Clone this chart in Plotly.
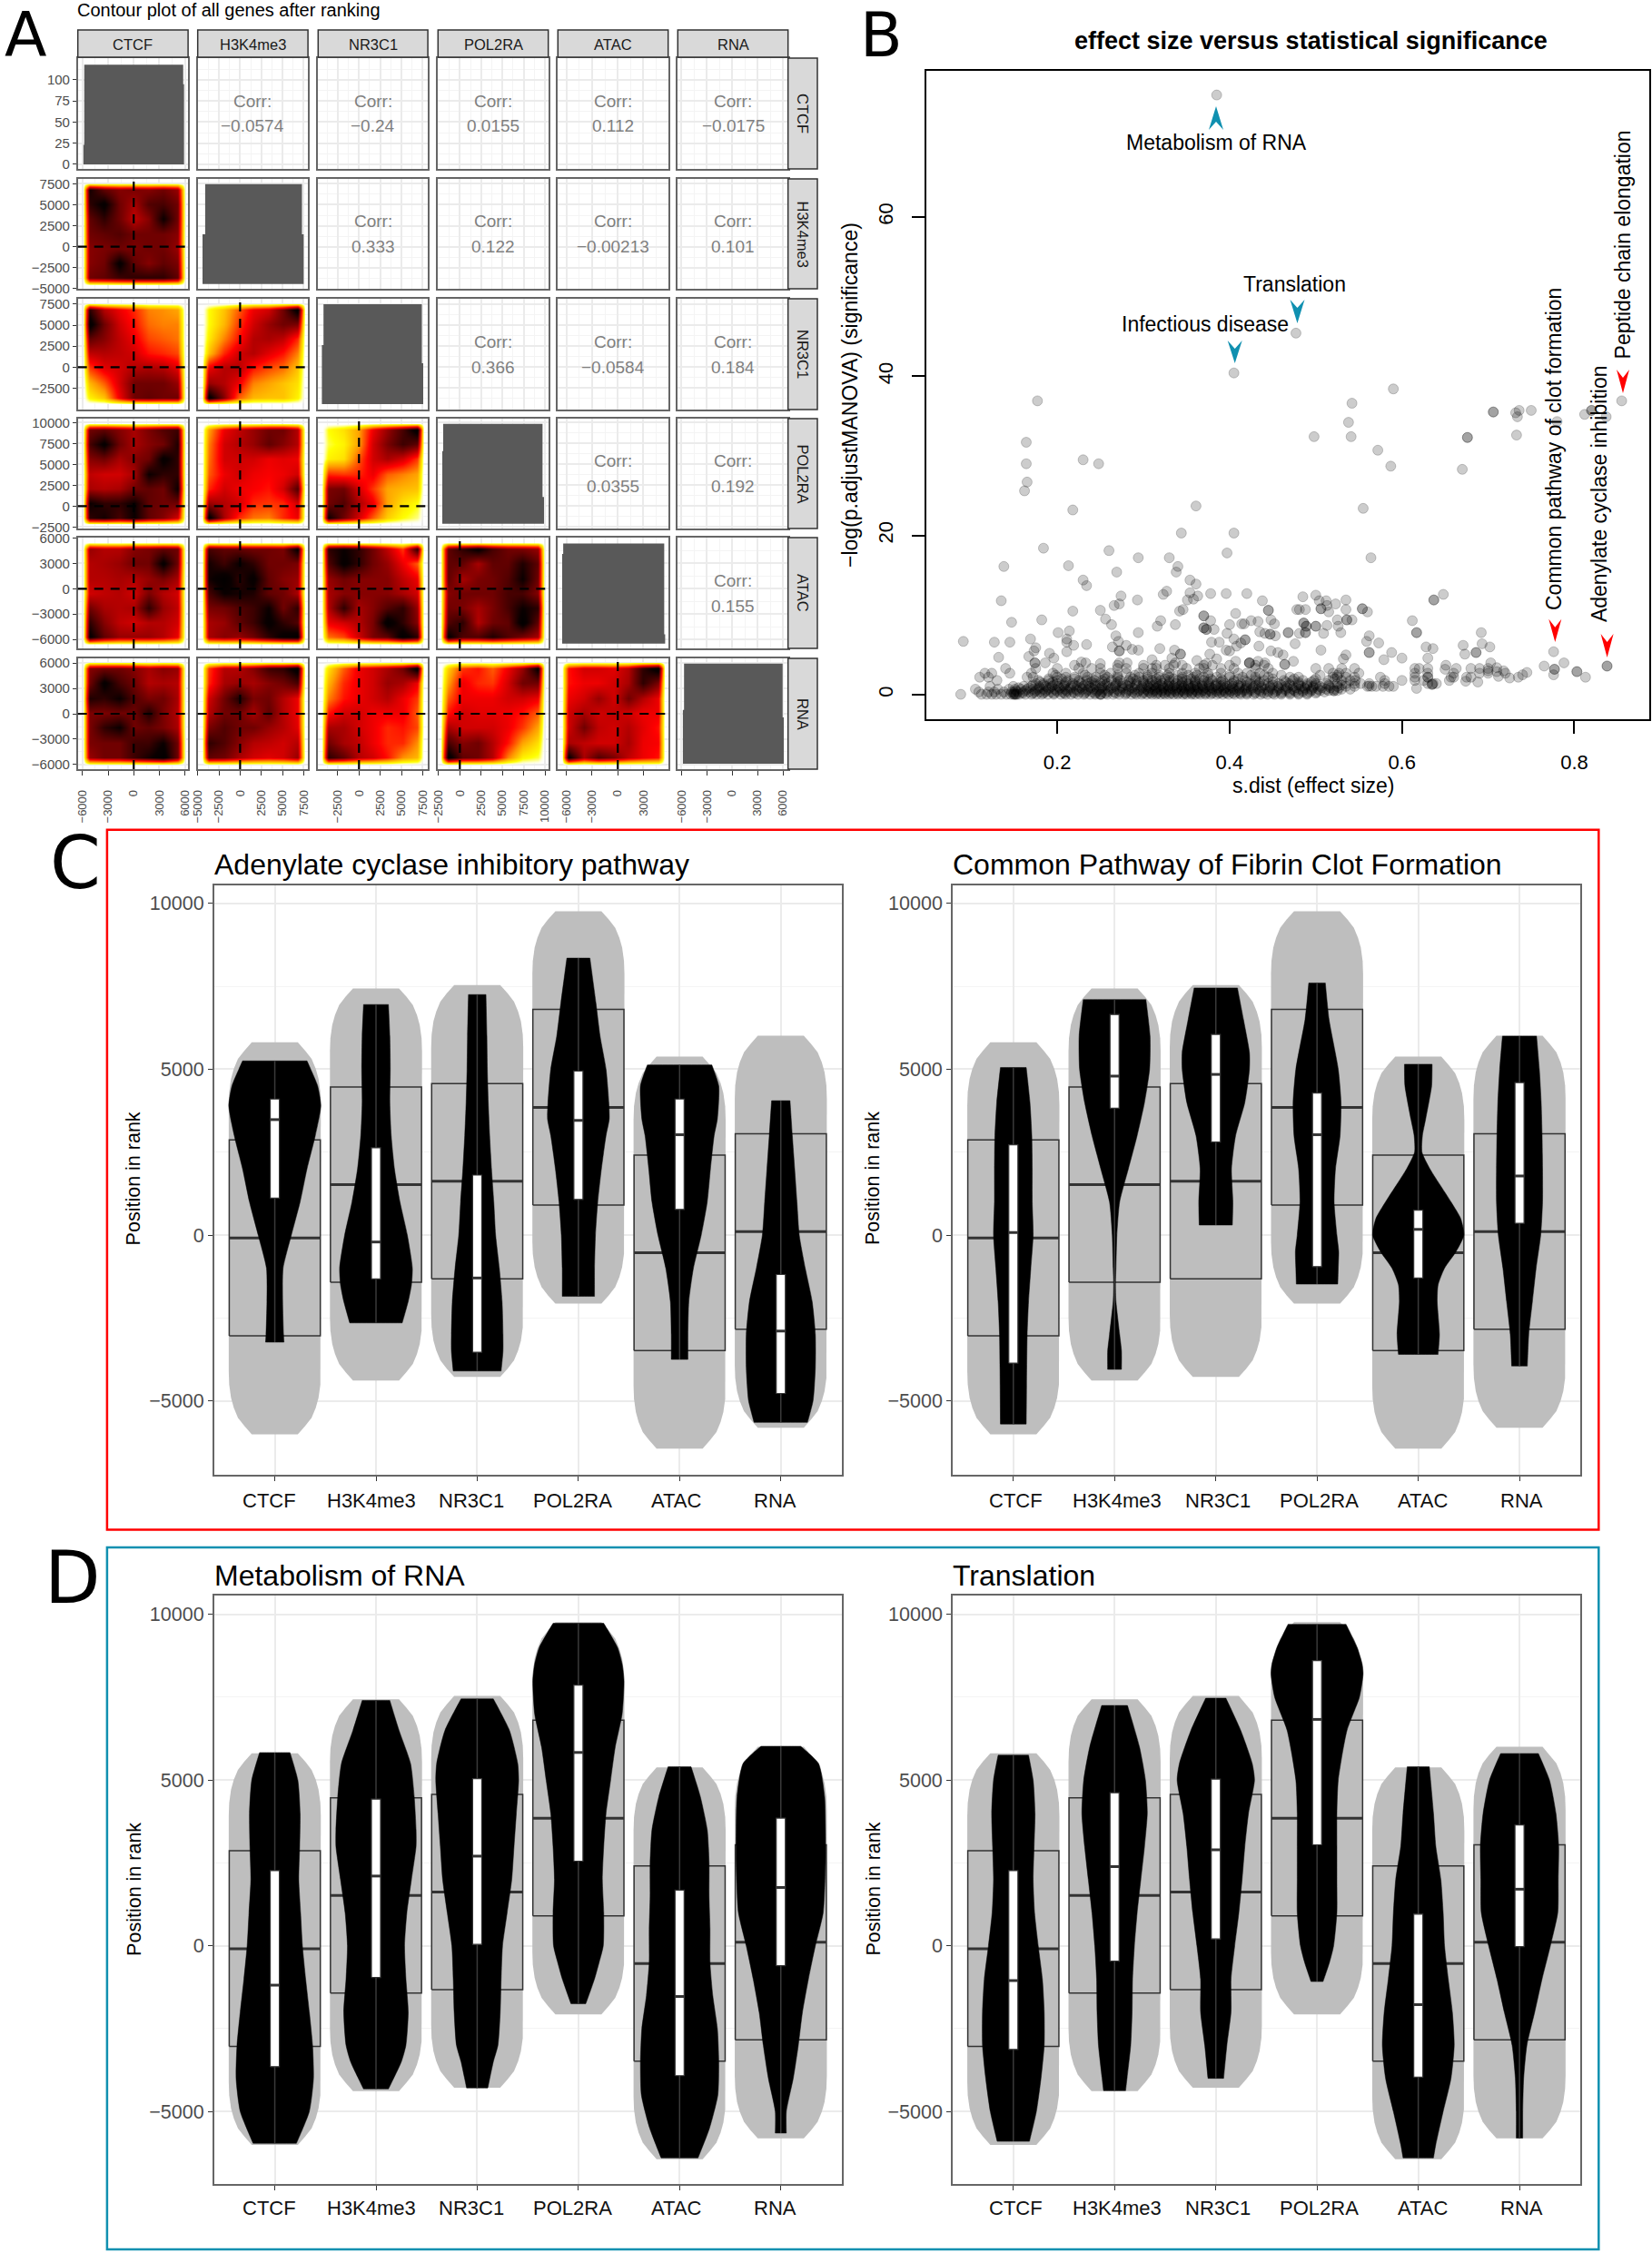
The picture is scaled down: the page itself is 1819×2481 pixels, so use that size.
import numpy as np
import plotly.graph_objects as go

W, H = 1819, 2481
FONT = "Liberation Sans"
TEAL = "#1090B0"

# ---------------- panel A data ----------------
MARKS = ["CTCF", "H3K4me3", "NR3C1", "POL2RA", "ATAC", "RNA"]
CORR_R0 = ["−0.0574", "−0.24", "0.0155", "0.112", "−0.0175"]
CORR_R1 = ["0.333", "0.122", "−0.00213", "0.101"]
CORR_R2 = ["0.366", "−0.0584", "0.184"]
CORR_R3 = ["0.0355", "0.192"]
CORR_R4 = ["0.155"]

TICKS_SIX = [-6000, -3000, 0, 3000, 6000]
TICKS_H3 = [-5000, -2500, 0, 2500, 5000, 7500]
TICKS_NR = [-2500, 0, 2500, 5000, 7500]
TICKS_POL = [-2500, 0, 2500, 5000, 7500, 10000]
TICKS_DENS = [0, 25, 50, 75, 100]
TICKS_RANK = [-5000, 0, 5000, 10000]

# data limits of each mark (low, high) used for the density surfaces
LIM_CTCF = (-5950, 5950)
LIM_H3 = (-4500, 7600)
LIM_NR = (-4400, 7650)
LIM_POL = (-2200, 9950)
LIM_ATAC = (-6550, 5500)
LIM_RNA = (-5950, 6150)

# diagonal densities
DIAG0_X = [-5900, -5900, -5800, -5800, 5800, 5800, 5900, 5900]
DIAG0_Y = [0, 23, 23, 118, 118, 95, 95, 0]
DIAG1_X = [-4430, -4430, -4120, -4120, 7300, 7300, 7497, 7497]
DIAG1_Y = [-4430, 1470, 1470, 7460, 7460, 1470, 1470, -4430]
DIAG2_X = [-4370, -4370, -4180, -4180, 7400, 7400, 7560, 7560]
DIAG2_Y = [-4400, 2630, 2630, 7500, 7500, 470, 470, -4400]
DIAG3_X = [-2055, -2055, -1950, -1950, 9700, 9700, 9870, 9870]
DIAG3_Y = [-2110, 6590, 6590, 9850, 9850, 1087, 1087, -2110]
DIAG4_X = [-6500, -6500, -6380, -6380, 5430, 5430, 5540, 5540]
DIAG4_Y = [-6500, 4120, 4120, 5350, 5350, -5410, -5410, -6500]
DIAG5_X = [-5840, -5840, -5700, -5700, 5960, 5960, 6100, 6100]
DIAG5_Y = [-5900, 460, 460, 5930, 5930, -430, -430, -5900]

# density surfaces, rows top to bottom, columns left to right, 0 = none, 1 = darkest
H3_CTCF = [[.9,.75,.68,.7,.68,.72,.65],[.85,.95,.72,.62,.78,.8,.72],[.75,.85,.72,.58,.68,.92,.72],
           [.72,.75,.78,.72,.72,.72,.68],[.68,.7,.72,.7,.72,.72,.65],[.68,.72,.95,.75,.68,.75,.7],
           [.72,.75,.82,.85,.85,.85,.75]]
NR_CTCF = [[.85,.6,.5,.42,.3,.28,.25],[.98,.72,.55,.45,.33,.3,.3],[.75,.68,.58,.5,.38,.35,.32],
           [.58,.6,.58,.55,.45,.42,.38],[.4,.52,.55,.6,.62,.6,.52],[.22,.35,.55,.72,.72,.72,.65],
           [.12,.2,.5,.72,.75,.72,.72]]
NR_H3 = [[.1,.2,.35,.5,.55,.72,.98],[.1,.22,.4,.55,.65,.72,.7],[.13,.3,.45,.6,.62,.58,.42],
         [.2,.42,.55,.6,.52,.45,.3],[.5,.6,.6,.45,.38,.33,.2],[.65,.6,.5,.3,.25,.2,.15],
         [.98,.68,.35,.22,.2,.2,.12]]
POL_CTCF = [[.72,.75,.68,.62,.7,.78,.82],[.8,.95,.72,.62,.68,.72,.88],[.68,.72,.62,.68,.72,.95,.85],
            [.58,.55,.55,.62,.92,.85,.85],[.62,.6,.62,.72,.75,.72,.92],[.92,.85,.85,.92,.75,.72,.72],
            [.85,.9,.8,.92,.75,.68,.55]]
POL_H3 = [[.25,.5,.58,.65,.72,.72,.6],[.3,.55,.6,.65,.75,.68,.6],[.32,.55,.55,.55,.5,.52,.5],
          [.35,.5,.55,.5,.48,.5,.55],[.42,.55,.5,.48,.45,.55,.78],[.65,.6,.55,.42,.4,.42,.55],
          [.98,.62,.42,.32,.3,.42,.5]]
POL_NR = [[.1,.15,.25,.5,.65,.8,.98],[.08,.12,.25,.55,.7,.82,.75],[.12,.15,.35,.55,.62,.55,.4],
          [.42,.4,.42,.5,.35,.3,.25],[.7,.72,.55,.4,.25,.22,.2],[.72,.78,.62,.5,.25,.15,.1],
          [.92,.72,.55,.35,.18,.1,.06]]
ATAC_CTCF = [[.65,.6,.6,.68,.7,.75,.72],[.6,.62,.65,.72,.72,.95,.72],[.6,.6,.62,.6,.65,.7,.62],
             [.55,.58,.6,.55,.7,.6,.55],[.72,.62,.6,.62,.85,.65,.58],[.85,.68,.58,.55,.6,.6,.55],
             [.95,.75,.65,.65,.65,.6,.5]]
ATAC_H3 = [[.8,.75,.75,.72,.72,.7,.95],[.9,.82,.92,.85,.72,.72,.7],[.9,.98,.85,.95,.75,.68,.65],
           [.8,.92,.9,.88,.75,.72,.62],[.7,.72,.78,.82,.92,.72,.85],[.62,.65,.75,.82,.95,.85,.78],
           [.62,.68,.65,.72,.85,.95,.98]]
ATAC_NR = [[.85,.92,.85,.72,.58,.4,.85],[.78,.95,.85,.72,.65,.5,.35],[.65,.72,.68,.68,.68,.58,.5],
           [.62,.68,.68,.68,.68,.62,.55],[.6,.85,.62,.68,.78,.85,.65],[.5,.55,.6,.7,.98,.85,.68],
           [.32,.38,.55,.7,.75,.98,.85]]
ATAC_POL = [[.75,.85,.95,.8,.72,.7,.65],[.75,.75,.62,.75,.75,.88,.75],[.75,.62,.7,.72,.78,.92,.72],
            [.68,.72,.72,.72,.8,.8,.68],[.72,.7,.62,.7,.8,.92,.85],[.78,.85,.6,.72,.75,.98,.75],
            [.95,.78,.78,.88,.78,.7,.62]]
RNA_CTCF = [[.68,.72,.72,.68,.62,.68,.65],[.72,.95,.8,.72,.6,.62,.6],[.88,.85,.92,.78,.7,.72,.62],
            [.7,.7,.72,.72,.88,.7,.6],[.7,.85,.92,.72,.75,.7,.62],[.7,.72,.72,.82,.82,.92,.72],
            [.65,.72,.72,.82,.9,.98,.72]]
RNA_H3 = [[.4,.6,.6,.68,.82,.85,.98],[.42,.62,.65,.62,.68,.72,.8],[.55,.72,.88,.7,.72,.6,.5],
          [.6,.72,.72,.62,.75,.6,.5],[.7,.78,.72,.72,.65,.6,.52],[.85,.78,.68,.6,.58,.55,.6],
          [.75,.72,.62,.55,.52,.55,.65]]
RNA_NR = [[.15,.35,.5,.55,.62,.72,.98],[.22,.42,.5,.55,.65,.62,.5],[.3,.45,.5,.55,.6,.5,.4],
          [.45,.55,.55,.5,.5,.5,.35],[.62,.62,.55,.5,.42,.45,.38],[.72,.62,.58,.5,.42,.42,.28],
          [.85,.75,.6,.55,.45,.28,.22]]
RNA_POL = [[.18,.4,.45,.35,.5,.65,.95],[.25,.5,.42,.4,.55,.72,.72],[.35,.5,.5,.5,.55,.55,.5],
           [.45,.55,.52,.52,.5,.45,.35],[.62,.55,.55,.55,.5,.4,.25],[.8,.68,.72,.6,.45,.25,.15],
           [.98,.75,.72,.6,.3,.12,.08]]
RNA_ATAC = [[.45,.55,.55,.52,.6,.85,.98],[.45,.5,.5,.55,.62,.85,.7],[.5,.55,.65,.55,.72,.6,.5],
            [.55,.62,.55,.58,.55,.5,.5],[.55,.72,.58,.55,.6,.52,.45],[.62,.58,.55,.55,.62,.5,.48],
            [.95,.62,.78,.7,.58,.5,.45]]

# ---------------- panel B data ----------------
UPPER_X = [.385,.477,.405,.855,.177,.542,.59,.706,.706,.732,.736,.75,.812,.82,.82,.837,.538,.78,.734,
 .498,.541,.676,.676,.733,.572,.164,.164,.248,.23,.587,.67,.165,.162,.218,.361,.555,
 .344,.405,.184,.26,.397,.294,.564,.33,.138,.213,.34,.338,.269,.23,.234,.354,.361,.327,.323,.274,.354,.363,
 .378,.396,.42,.648,.5,.485,.535,.135,.293,.351,.358,.438,.504,.512,.637,.637,.523,.513,.266,.272,.25,.218,
 .445,.445,.478,.481,.488,.506,.506,.535,.554,.554,.56,.515,.342,.346,.407,.37,.37,.32,.182,.256,.378,.425,
 .433,.448,.525,.536,.536,.542,.612,.147,.263,.316,.337,.4,.414,.417,.452,.486,.486,.489,.489,.5,.5,.513,.526,
 .37,.37,.373,.373,.382,.214,.201,.294,.397,.435,.441,.447,.447,.468,.468,.481,.488,.488,.509,.529,.617,.617,
 .692,.268,.169,.211,.453,.405,.562,.418,.418,.127,.145,.091,.271,.379,.388,.476,.559,.573,.671,.693,.702,
 .28,.211,.219,.234,.264,.272,.272,.287,.294,.319,.336,.408,.413,.434,.628,.636,.173,.175,.211,.191,.396,.4,
 .448,.456,.462,.506,.562,.562,.588,.673,.686,.686,.776,.377,.343,.343,.167,.132,.196,.535,.6,.63,.385,.333,
 .362,.31,.281,.272,.233,.228,.174,.174,.186,.25,.337,.373,.407,.423,.423,.423,.433,.441,.464,.464,.532,.474,
 .579,.651,.788,.765,.838,.838,.71,.703,.663,.777,.777,.718,.803,.803]
UPPER_Y = [75.3,45.4,40.4,36.9,36.9,36.6,38.4,35.5,35.5,35.4,35.7,35.7,35.2,35.7,35.7,34.9,34.2,34.3,34.9,
 32.4,32.4,32.3,32.3,32.6,30.7,31.7,29,29,29.5,28.7,28.3,26.7,25.6,23.2,23.7,23.4,
 20.3,20.3,18.4,18.1,17.8,17.2,17.2,17.2,16.1,16.2,16.1,15.4,15.4,14.4,13.7,14.4,13.9,13,12.6,12.4,12.8,12.4,
 12.7,12.7,12.7,12.6,12.5,12.3,11.9,11.8,11.9,11.9,12,11.8,11.8,11.8,11.9,11.9,11.4,11.2,11.2,11.4,10.6,10.5,
 10.6,10.6,10.7,10.7,10.7,10.8,10.8,10.7,10.8,10.8,10.4,10.4,10.5,10.7,10.2,9.9,9.9,9.3,9.4,9.5,9.3,9.3,
 9.2,9.4,9.4,9.4,9.4,9.4,9.3,9.1,8.8,8.6,8.8,8.8,8.9,8.9,8.9,9,9,8.6,8.6,8.6,8.6,8.7,8.6,
 8.4,8.4,8.2,8.2,8.2,8,7.8,7.8,7.7,7.9,7.7,7.6,7.6,7.8,7.8,7.7,7.8,7.8,7.7,7.8,7.8,7.8,
 7.8,7.4,7,7,7.4,7,7.4,6.9,6.9,6.6,6.6,6.7,6.7,6.6,6.6,6.4,6.7,6.5,6.2,6.4,6,
 6.2,6.6,6.2,6.3,6,5.5,5.5,5.7,5.6,5.8,5.6,6.1,6.5,6.1,6,5.8,5.5,5.9,5.4,5.2,5.6,5.5,
 5.5,5.3,5,5.6,5.3,5.3,5.3,5.1,5.3,5.3,5.4,5.1,5.1,5.1,4.8,4.7,4.6,5,4.6,4.6,4.5,4.6,
 4.3,4.4,4,4,4,4.1,4,4,4,3.9,4,3.9,4.2,4,4,4,4.2,4,3.8,3.8,4.5,4.2,
 4.4,3.7,4,3.6,3.6,3.6,3.4,4,3.3,3.2,3.2,3,2.9,2.9]
# right-hand scatter near the baseline
RIGHT_X = [.74,.776,.813,.725,.712,.688,.674,.657,.617,.635,.635,.562,.521,.521,.745,.7,.71,.65]
RIGHT_Y = [2.5,2.5,2.2,2.1,2.3,1.6,1.7,2.2,.8,1.3,1.3,1.1,.5,.5,2.8,3,2.9,3.2]
# the dense band, point by point at its heights
BAND_05 = [.088,.112,.118,.124,.129,.135,.141,.146,.149,.15,.151,.152,.153,.156,.163,.17,.176,.182,.189,.196,.204,.21,.216,.224,.231,.238,.244,.25,.25,.251,.258,.265,.272,.279,.286,.292,.298,.304,.31,.315,.32,.325,.33,.335,.34,.346,.35,.356,.36,.366,.372,.378,.385,.392,.399,.406,.413,.42,.428,.436,.444,.452,.46,.47,.48,.49]
BAND_35 = [.109,.12,.127,.138,.147,.15,.154,.16,.167,.174,.18,.186,.193,.2,.206,.212,.219,.226,.233,.24,.246,.252,.259,.266,.273,.28,.287,.293,.3,.306,.311,.316,.321,.326,.331,.337,.342,.347,.352,.357,.362,.367,.373,.379,.385,.39,.395,.401,.407,.414,.421,.429,.437,.445,.453,.461,.469,.477,.485,.493,.501,.51]
BAND_70 = [.105,.131,.144,.151,.158,.165,.172,.178,.184,.19,.197,.203,.209,.215,.222,.229,.235,.242,.249,.255,.262,.269,.276,.283,.29,.297,.303,.309,.314,.319,.324,.329,.334,.339,.344,.349,.354,.359,.364,.369,.375,.381,.387,.393,.399,.405,.411,.418,.425,.433,.441,.449,.457,.465,.473,.481,.488,.495,.503,.512,.521,.53,.54]
BAND_105 = [.122,.149,.161,.17,.179,.187,.194,.201,.208,.216,.223,.23,.237,.244,.252,.259,.267,.275,.282,.29,.298,.305,.311,.317,.323,.329,.335,.341,.347,.352,.358,.363,.369,.376,.383,.39,.397,.404,.412,.42,.428,.437,.447,.456,.465,.474,.483,.49,.497,.505,.515,.525,.535,.545,.56,.565,.57,.578,.585,.59]
BAND_140 = [.175,.184,.192,.2,.209,.218,.228,.236,.244,.25,.258,.268,.276,.284,.292,.3,.308,.315,.322,.33,.338,.345,.352,.36,.368,.376,.385,.394,.403,.413,.424,.434,.445,.457,.469,.48,.49,.5,.512,.525,.535,.545,.552,.562,.58,.63,.636,.64]
BAND_180 = [.13,.178,.19,.2,.212,.225,.234,.243,.252,.263,.273,.283,.292,.3,.31,.32,.33,.34,.35,.36,.37,.38,.392,.405,.418,.43,.44,.463,.473,.485,.498,.515,.53,.54,.546,.58,.6,.615,.625,.655]
BAND_220 = [.11,.12,.165,.172,.2,.21,.22,.235,.245,.258,.27,.285,.295,.305,.318,.33,.345,.358,.37,.385,.4,.415,.43,.445,.47,.48,.52,.525,.535,.545,.575,.615,.63,.63,.66,.675,.68,.735]
BAND_270 = [.116,.124,.145,.17,.195,.21,.23,.25,.262,.28,.295,.31,.33,.345,.36,.375,.39,.41,.42,.435,.45,.52,.527,.535,.55,.615,.63,.66,.69,.7,.72]
BAND_330 = [.14,.175,.2,.225,.24,.25,.27,.28,.3,.31,.315,.33,.35,.365,.37,.39,.405,.43,.445,.5,.515,.53,.545,.615,.62,.63,.68,.69,.7]
# second pass over the same stretches, the band holds about twice these counts
BAND_20 = [.15,.16,.172,.184,.196,.208,.22,.232,.244,.256,.268,.28,.29,.3,.308,.316,.324,.332,.34,.348,.356,.364,.372,.38,.388,.396,.404,.412,.42,.43,.44,.45,.46,.47,.48,.49,.5]
BAND_52 = [.152,.163,.175,.187,.199,.211,.223,.235,.247,.259,.271,.283,.295,.305,.313,.321,.329,.337,.345,.353,.361,.369,.377,.385,.393,.401,.409,.417,.425,.435,.445,.455,.465,.475,.485,.495,.505,.515,.525]
BAND_88 = [.155,.167,.179,.191,.203,.215,.227,.239,.251,.263,.275,.287,.299,.307,.315,.323,.331,.339,.347,.355,.363,.371,.379,.387,.395,.403,.411,.419,.427,.437,.447,.457,.467,.477,.487,.497,.507,.517,.527]
BAND_122 = [.172,.184,.196,.208,.22,.232,.244,.256,.268,.28,.292,.304,.312,.32,.328,.336,.344,.352,.36,.368,.376,.384,.392,.4,.41,.42,.43,.44,.45,.46,.47,.48,.49,.5,.515,.53]
BAND_160 = [.18,.195,.21,.225,.24,.255,.27,.285,.3,.315,.33,.345,.36,.375,.39,.405,.42,.435,.45,.465,.48,.495]
BAND_200 = [.19,.205,.22,.24,.255,.27,.288,.305,.315,.325,.335,.345,.355,.365,.378,.39,.41,.43,.45,.475,.5,.522]
BAND_245 = [.198,.232,.255,.27,.29,.305,.318,.328,.34,.352,.362,.375,.4,.425,.44,.46,.505,.525]
BAND_370 = [.22,.27,.3,.315,.325,.335,.345,.37,.38,.4,.43,.44]

# ---------------- panels C, D data ----------------
# background distribution of all genes
GRAY_TOP = [5810, 7435, 7539, 9764, 5380, 6008]
GRAY_BOTTOM = [-6008, -4385, -4280, -2068, -6440, -5812]
GRAY_OFFSET = [0, 250, 500, 800, 1100, 1500, 1900]
GRAY_WIDTH = [.5, .66, .8, .89, .95, .99, 1.0]
ALL_Q3 = [2866, 4463, 4568, 6806, 2408, 3050]
ALL_MED = [-92, 1518, 1623, 3848, -537, 105]
ALL_Q1 = [-3037, -1427, -1322, 903, -3482, -2840]

# Adenylate cyclase inhibitory pathway
AC_R = [[5250,5000,4500,3900,3000,2000,1000,0,-1000,-2000,-3000,-3230],
        [6950,6000,5000,4000,3000,2000,1000,0,-1000,-1500,-2000,-2650],
        [7250,6000,5000,4000,3000,2000,1000,0,-1000,-2000,-3000,-3500,-4100],
        [8350,7000,6000,5000,4000,3500,3000,2000,1000,0,-1000,-1850],
        [5130,4500,3500,3000,2000,1000,0,-1000,-2000,-3000,-3750],
        [4050,3000,2000,1000,0,-1000,-2000,-3000,-4000,-5000,-5650]]
AC_W = [[.70,.78,.93,1.0,.88,.70,.55,.36,.18,.17,.19,.20],
        [.27,.30,.31,.30,.33,.40,.52,.68,.79,.77,.70,.57],
        [.19,.21,.22,.24,.27,.31,.36,.40,.48,.54,.56,.56,.52],
        [.25,.38,.47,.60,.66,.67,.60,.50,.42,.37,.35,.35],
        [.70,.85,.82,.75,.67,.60,.47,.30,.20,.18,.18],
        [.20,.25,.30,.35,.40,.53,.68,.75,.75,.70,.58]]
AC_TOP = [4100, 2630, 1807, 4948, 4100, -1191]
AC_MED = [3480, -210, -1296, 3456, 3024, -2893]
AC_BOT = [1113, -1322, -3534, 1073, 772, -4778]

# Common Pathway of Fibrin Clot Formation
FB_R = [[5050,4000,3000,2000,1000,0,-1000,-2000,-3000,-4000,-5700],
        [7100,6000,5000,4000,3000,2000,1000,0,-1000,-1500,-2000,-3000,-3500,-4050],
        [7450,6500,5500,5000,4000,3000,2000,1000,300],
        [7600,6500,5000,4000,3000,2000,1000,0,-500,-1000,-1480],
        [5150,4500,3500,3000,2500,2000,1000,500,0,-500,-1000,-1500,-2000,-3000,-3600],
        [6000,5000,4000,3000,2000,1000,0,-1000,-2000,-3000,-3950]]
FB_W = [[.28,.36,.40,.41,.41,.43,.38,.33,.30,.29,.28],
        [.68,.77,.76,.65,.49,.30,.11,.05,.03,.02,.03,.11,.15,.15],
        [.47,.60,.73,.73,.63,.43,.34,.37,.36],
        [.18,.26,.46,.52,.50,.40,.37,.43,.47,.46,.45],
        [.30,.29,.16,.09,.08,.25,.71,.92,.99,.82,.57,.43,.41,.46,.43],
        [.37,.43,.47,.49,.50,.50,.46,.36,.28,.20,.17]]
FB_TOP = [2723, 6650, 6048, 4280, 746, 4594]
FB_MED = [78, 4791, 4843, 3024, 170, 1780]
FB_BOT = [-3862, 3822, 2801, -955, -1296, 353]

# Metabolism of RNA
MR_R = [[5830,5000,4000,3000,2000,1000,0,-1000,-2000,-3000,-4000,-5000,-5960],
        [7400,6500,5500,4500,3500,3000,2000,1000,0,-1000,-2000,-3000,-3500,-4320],
        [7450,6500,5500,5000,4000,3000,2000,1000,0,-1000,-2000,-3000,-3500,-4290],
        [9730,9000,8500,8000,7000,6000,5000,4000,3000,2000,1000,0,-500,-1000,-1750],
        [5400,4500,3500,2500,1500,500,-500,-1500,-2500,-3500,-4500,-5500,-6400],
        [6020,5500,4500,3500,2500,1000,0,-1000,-2000,-3000,-4000,-5000,-5650]]
MR_W = [[.33,.50,.55,.54,.52,.56,.60,.67,.75,.82,.84,.75,.47],
        [.30,.50,.75,.83,.87,.87,.77,.67,.62,.65,.70,.65,.55,.27],
        [.35,.70,.88,.90,.85,.80,.75,.65,.55,.52,.50,.45,.35,.23],
        [.55,.85,.95,.99,.95,.80,.70,.60,.55,.52,.55,.54,.45,.35,.16],
        [.25,.45,.60,.64,.64,.66,.66,.72,.82,.85,.83,.65,.40],
        [.43,.82,.95,.97,.97,.92,.75,.60,.47,.38,.27,.12,.12]]
MR_TOP = [2268, 4426, 5041, 7868, 1680, 3852]
MR_MED = [-1188, 2104, 2705, 5833, -1530, 1762]
MR_BOT = [-3647, -956, 41, 2554, -3920, -601]

# Translation
TR_R = [[5750,5000,4000,3000,2000,1000,0,-1000,-2000,-3000,-4000,-5000,-5900],
        [7250,6000,5000,4000,3000,2000,1000,0,-1000,-2000,-3000,-4000,-4370],
        [7470,6500,5500,5000,4000,3000,2000,1000,0,-1000,-2000,-3000,-4000],
        [9700,9000,8500,8200,7500,6500,5000,4000,3000,2000,1000,0,-500,-1080],
        [5400,4000,3000,2000,1000,0,-1000,-2000,-3000,-4000,-5000,-6000,-6400],
        [5800,5000,4000,3000,2000,1000,0,-1000,-2000,-3000,-4000,-5000,-5800]]
TR_W = [[.33,.43,.47,.45,.43,.46,.54,.63,.67,.67,.60,.50,.35],
        [.28,.54,.67,.71,.65,.57,.49,.43,.39,.38,.35,.27,.24],
        [.22,.54,.79,.84,.71,.63,.57,.50,.41,.33,.33,.24,.17],
        [.63,.87,.98,1.0,.92,.65,.46,.43,.43,.43,.43,.36,.27,.13],
        [.24,.33,.38,.49,.54,.57,.65,.74,.78,.71,.54,.38,.33],
        [.41,.65,.79,.85,.84,.83,.67,.49,.33,.16,.09,.07,.07]]
TR_TOP = [2268, 4617, 5027, 8606, 956, 3647]
TR_MED = [-1052, 2390, 2896, 6830, -1776, 1707]
TR_BOT = [-3128, -464, 205, 3046, -3961, -27]

# ---------------- helpers ----------------
fig = go.Figure()
layout = dict(
    template="none",
    width=W, height=H, autosize=False, margin=dict(l=0, r=0, t=0, b=0, pad=0, autoexpand=False),
    paper_bgcolor="white", plot_bgcolor="white", showlegend=False,
    font=dict(family=FONT, color="#000000"), annotations=[], shapes=[],
)
_next = [1]


def px(x):
    return x / W


def py(y):
    return 1 - y / H


def labels(vals):
    return [str(v).replace("-", "−") for v in vals]


def axes(x0, x1, y0, y1, xrange, yrange, xopts, yopts):
    i = _next[0]
    _next[0] += 1
    suffix = "" if i == 1 else str(i)
    layout["xaxis" + suffix] = dict(domain=[px(x0), px(x1)], range=list(xrange), anchor="y" + suffix,
                                    zeroline=False, automargin=False, **xopts)
    layout["yaxis" + suffix] = dict(domain=[py(y1), py(y0)], range=list(yrange), anchor="x" + suffix,
                                    zeroline=False, automargin=False, **yopts)
    return "x" + suffix, "y" + suffix


def text(x, y, s, size, color="#000000", angle=0, anchor="center", bold=False, family=FONT):
    layout["annotations"].append(dict(
        x=px(x), y=py(y), xref="paper", yref="paper", text=("<b>%s</b>" % s) if bold else s,
        showarrow=False, xanchor=anchor, yanchor="middle", textangle=angle,
        font=dict(size=size, color=color, family=family), borderpad=0, borderwidth=0))


def rect(x0, y0, x1, y1, fill=None, line="#333333", width=1.5):
    layout["shapes"].append(dict(
        type="rect", xref="paper", yref="paper", x0=px(x0), x1=px(x1), y0=py(y0), y1=py(y1),
        fillcolor=fill if fill else "rgba(0,0,0,0)", line=dict(color=line, width=width)))


def arrow(cx, y0, y1, half, color, up):
    tip, base = (y0, y1) if up else (y1, y0)
    notch = base - 9 if up else base + 9
    pts = [(cx, tip), (cx + half, base), (cx, notch), (cx - half, base)]
    path = "M " + " L ".join("%.5f %.5f" % (px(a), py(b)) for a, b in pts) + " Z"
    layout["shapes"].append(dict(type="path", xref="paper", yref="paper", path=path,
                                 fillcolor=color, line=dict(width=0)))


# ---------------- panel A ----------------
COL_PX = [(85.7, 207.1), (217.7, 339.1), (350.3, 471.1), (482.3, 603.7), (614.3, 735.7), (746.3, 867.7)]
ROW_PX = [(64, 186), (197, 318), (329, 451), (461, 582), (592, 714), (725, 847)]
XR = [(-6554, 6373), (-5000, 8005), (-4811, 8107), (-2556, 10373), (-7000, 5890), (-6440, 6600)]
YR = [(-5.4, 125.8), (-5005, 8076), (-5054, 8148), (-2685, 10467), (-7065, 6054), (-6538, 6538)]
XT = [TICKS_SIX, TICKS_H3, TICKS_NR, TICKS_POL, TICKS_SIX, TICKS_SIX]
YT = [TICKS_DENS, TICKS_H3, TICKS_NR, TICKS_POL, TICKS_SIX, TICKS_SIX]
LIMS = [LIM_CTCF, LIM_H3, LIM_NR, LIM_POL, LIM_ATAC, LIM_RNA]
DIAGS = [(DIAG0_X, DIAG0_Y), (DIAG1_X, DIAG1_Y), (DIAG2_X, DIAG2_Y), (DIAG3_X, DIAG3_Y), (DIAG4_X, DIAG4_Y), (DIAG5_X, DIAG5_Y)]
CORRS = [CORR_R0, CORR_R1, CORR_R2, CORR_R3, CORR_R4]
SURF = {(1, 0): H3_CTCF, (2, 0): NR_CTCF, (2, 1): NR_H3, (3, 0): POL_CTCF, (3, 1): POL_H3, (3, 2): POL_NR,
        (4, 0): ATAC_CTCF, (4, 1): ATAC_H3, (4, 2): ATAC_NR, (4, 3): ATAC_POL,
        (5, 0): RNA_CTCF, (5, 1): RNA_H3, (5, 2): RNA_NR, (5, 3): RNA_POL, (5, 4): RNA_ATAC}
HOT = [[0, "rgba(255,255,255,0)"], [.04, "#ffffc0"], [.1, "#ffff00"], [.27, "#ff9900"], [.47, "#ff0000"],
       [.7, "#7a0000"], [.92, "#0a0000"], [1, "#000000"]]
PAD = 800


def nodes(lim):
    inner = np.linspace(lim[0] + PAD, lim[1] - PAD, 7)
    return [lim[0]] + list(inner) + [lim[1]]


def minor_of(ticks):
    return dict(tickmode="linear", tick0=0, dtick=(ticks[1] - ticks[0]) / 2, showgrid=True,
                gridcolor="#f4f4f4", gridwidth=1, ticks="")


text(85, 11, "Contour plot of all genes after ranking", 20, anchor="left")
for c, name in enumerate(MARKS):
    rect(COL_PX[c][0], 33, COL_PX[c][1], 63, fill="#d9d9d9", line="#333333", width=1.5)
    text(sum(COL_PX[c]) / 2, 49, name, 16.5, "#1a1a1a")
    rect(867.7, ROW_PX[c][0], 900, ROW_PX[c][1], fill="#d9d9d9", line="#333333", width=1.5)
    text(884, sum(ROW_PX[c]) / 2, name, 16.5, "#1a1a1a", angle=90)

for r in range(6):
    for c in range(6):
        xo = dict(showline=True, mirror=True, linecolor="#666666", linewidth=1.5, showgrid=True,
                  gridcolor="#ebebeb", gridwidth=1.5, tickmode="array", tickvals=XT[c], ticktext=labels(XT[c]),
                  minor=minor_of(XT[c]), layer="above traces",
                  ticks="outside" if r == 5 else "", ticklen=5, tickcolor="#333333", tickwidth=1.2,
                  showticklabels=r == 5, tickangle=-90, ticklabelstandoff=11,
                  tickfont=dict(size=13, color="#4d4d4d", family=FONT))
        yo = dict(showline=True, mirror=True, linecolor="#666666", linewidth=1.5, showgrid=True,
                  gridcolor="#ebebeb", gridwidth=1.5, tickmode="array", tickvals=YT[r], ticktext=labels(YT[r]),
                  minor=minor_of(YT[r]), layer="above traces",
                  ticks="outside" if c == 0 else "", ticklen=4, tickcolor="#333333", tickwidth=1.2,
                  showticklabels=c == 0, tickfont=dict(size=15, color="#4d4d4d", family=FONT))
        xa, ya = axes(COL_PX[c][0], COL_PX[c][1], ROW_PX[r][0], ROW_PX[r][1], XR[c], YR[r], xo, yo)
        if r == c:
            fig.add_trace(go.Scatter(x=DIAGS[r][0], y=DIAGS[r][1], xaxis=xa, yaxis=ya, mode="lines",
                                     fill="toself", fillcolor="#595959", line=dict(width=0), hoverinfo="skip"))
        elif c > r:
            # an empty trace keeps the panel frame and its grid on the page
            fig.add_trace(go.Scatter(x=[None], y=[None], xaxis=xa, yaxis=ya, mode="markers", hoverinfo="skip"))
            cx, cy = sum(COL_PX[c]) / 2, sum(ROW_PX[r]) / 2
            text(cx, cy - 14, "Corr:", 19, "#808080")
            text(cx, cy + 14, CORRS[r][c - r - 1], 19, "#808080")
        else:
            grid = np.array(SURF[(r, c)], dtype=float)
            z = np.zeros((9, 9))
            z[1:8, 1:8] = grid[::-1]
            fig.add_trace(go.Heatmap(x=nodes(LIMS[c]), y=nodes(LIMS[r]), z=z, zmin=0, zmax=1, xaxis=xa, yaxis=ya,
                                     zsmooth="best", colorscale=HOT, showscale=False, hoverinfo="skip"))
            dash = dict(color="#000000", width=2.2, dash="10px,8px")
            layout["shapes"].append(dict(type="line", xref=xa, yref=ya + " domain", x0=0, x1=0, y0=0, y1=1, line=dash))
            layout["shapes"].append(dict(type="line", xref=xa + " domain", yref=ya, x0=0, x1=1, y0=0, y1=0, line=dash))

# ---------------- panel B ----------------
xa, ya = axes(1020.3, 1816, 78.3, 791.7, (0.0484, 0.887), (-3.04, 78.3),
              dict(showline=True, mirror=True, linecolor="#000000", linewidth=2, showgrid=False, tickmode="array",
                   tickvals=[.2, .4, .6, .8], ticktext=["0.2", "0.4", "0.6", "0.8"], ticks="outside", ticklen=14,
                   tickwidth=1.5, tickcolor="#000000", ticklabelstandoff=13,
                   tickfont=dict(size=22, color="#000000", family=FONT)),
              dict(showline=True, mirror=True, linecolor="#000000", linewidth=2, showgrid=False, tickmode="array",
                   tickvals=[0, 20, 40, 60], ticks="outside", ticklen=14, tickwidth=1.5, tickcolor="#000000",
                   tickangle=-90, ticklabelstandoff=13, tickfont=dict(size=22, color="#000000", family=FONT)))
bx = list(UPPER_X) + list(RIGHT_X)
by = list(UPPER_Y) + list(RIGHT_Y)
for level, xs in [(.05, BAND_05), (.35, BAND_35), (.7, BAND_70), (1.05, BAND_105), (1.4, BAND_140),
                  (1.8, BAND_180), (2.2, BAND_220), (2.7, BAND_270), (3.3, BAND_330),
                  (.2, BAND_20), (.52, BAND_52), (.88, BAND_88), (1.22, BAND_122), (1.6, BAND_160),
                  (2.0, BAND_200), (2.45, BAND_245), (3.7, BAND_370)]:
    bx += list(xs)
    by += [level] * len(xs)
fig.add_trace(go.Scatter(x=bx, y=by, xaxis=xa, yaxis=ya, mode="markers", hoverinfo="skip",
                         marker=dict(size=11, color="rgba(0,0,0,0.2)", line=dict(width=1, color="rgba(0,0,0,0.2)"))))
text(1443, 45, "effect size versus statistical significance", 27, bold=True)
text(1446, 865, "s.dist (effect size)", 23)
text(936, 435, "−log(p.adjustMANOVA) (significance)", 23, angle=-90)
text(1339, 157, "Metabolism of RNA", 23)
text(1425, 313, "Translation", 23)
text(1326.5, 357, "Infectious disease", 23)
text(1787.4, 269, "Peptide chain elongation", 23, angle=-90)
text(1711, 495, "Common pathway of clot formation", 23, angle=-90)
text(1761.6, 543.5, "Adenylate cyclase inhibition", 23, angle=-90)
arrow(1339, 117, 143, 8, TEAL, True)
arrow(1428.5, 330, 356, 8, TEAL, False)
arrow(1359.7, 375, 400, 8, TEAL, False)
arrow(1787, 407, 433, 7, "#ff0000", False)
arrow(1712.3, 681.7, 707, 7, "#ff0000", False)
arrow(1769.6, 698, 724, 7, "#ff0000", False)

# ---------------- panels C, D ----------------
HALF = 0.455
BOXHALF = 0.045


def line(x, y, xa, ya, color, width, fill=None, shape="linear"):
    style = dict(color=color, width=width, shape=shape)
    if shape == "spline":
        style["smoothing"] = .6
    fig.add_trace(go.Scatter(x=x, y=y, xaxis=xa, yaxis=ya, mode="lines", hoverinfo="skip", line=style,
                             fill="toself" if fill else None, fillcolor=fill))


def violin_panel(x0, x1, y0, y1, yrange, title, title_y, label_y, label_xs, ylab_x, ylab_y, R, Wd, TOP, MED, BOT):
    xa, ya = axes(x0, x1, y0, y1, (.4, 6.6), yrange,
                  dict(showline=True, mirror=True, linecolor="#666666", linewidth=1.5, showgrid=True,
                       gridcolor="#ebebeb", gridwidth=1.5, tickmode="array", tickvals=[1, 2, 3, 4, 5, 6],
                       ticks="outside", ticklen=5, tickcolor="#333333", tickwidth=1.2, showticklabels=False,
                       layer="above traces"),
                  dict(showline=True, mirror=True, linecolor="#666666", linewidth=1.5, showgrid=True,
                       gridcolor="#ebebeb", gridwidth=1.5, tickmode="array", tickvals=TICKS_RANK,
                       ticktext=labels(TICKS_RANK),
                       minor=dict(tickmode="linear", tick0=0, dtick=2500, showgrid=True, gridcolor="#f4f4f4",
                                  gridwidth=1.2, ticks=""),
                       ticks="outside", ticklen=5, tickcolor="#333333", tickwidth=1.2, layer="above traces",
                       tickfont=dict(size=21.5, color="#4d4d4d", family=FONT)))
    text(x0, title_y, title, 32, anchor="left")
    text(ylab_x, ylab_y, "Position in rank", 21.5, angle=-90)
    for i in range(6):
        c = i + 1
        top, bot = GRAY_TOP[i], GRAY_BOTTOM[i]
        gy = [top - o for o in GRAY_OFFSET] + [bot + o for o in reversed(GRAY_OFFSET)]
        gw = [w * HALF for w in GRAY_WIDTH] + [w * HALF for w in reversed(GRAY_WIDTH)]
        gx = [c + w for w in gw] + [c - w for w in reversed(gw)]
        line(gx, gy + gy[::-1], xa, ya, "#bebebe", 0, fill="#bebebe")
        bw = .45
        line([c - bw, c + bw, c + bw, c - bw, c - bw], [ALL_Q1[i], ALL_Q1[i], ALL_Q3[i], ALL_Q3[i], ALL_Q1[i]],
             xa, ya, "#333333", 1.5)
        line([c - bw, c + bw], [ALL_MED[i], ALL_MED[i]], xa, ya, "#333333", 3)
        # each cap corner is listed twice so that the flat ends stay square
        right = [c + w * HALF for w in Wd[i]]
        left = [c - w * HALF for w in reversed(Wd[i])]
        rr, rl = list(R[i]), list(reversed(R[i]))
        vx = right[:1] + right + right[-1:] + left[:1] + left + left[-1:] + right[:1]
        vy = rr[:1] + rr + rr[-1:] + rl[:1] + rl + rl[-1:] + rr[:1]
        line(vx, vy, xa, ya, "#000000", 0.5, fill="#000000", shape="spline")
        line([c, c], [R[i][0], R[i][-1]], xa, ya, "#3a3a3a", 1.5)
        line([c - BOXHALF, c + BOXHALF, c + BOXHALF, c - BOXHALF, c - BOXHALF],
             [BOT[i], BOT[i], TOP[i], TOP[i], BOT[i]], xa, ya, "#333333", 1.2, fill="#ffffff")
        line([c - BOXHALF, c + BOXHALF], [MED[i], MED[i]], xa, ya, "#333333", 3)
        text(label_xs[i], label_y, MARKS[i], 22, "#111111")


LABELS_L = [296.4, 408.7, 518.9, 630.6, 744.9, 853.6]
LABELS_R = [1118.6, 1229.9, 1340.7, 1452, 1566.7, 1675.3]
CRANGE = (-7229, 10553)
DRANGE = (-7195, 10562)
violin_panel(235.7, 926.6, 974.6, 1624, CRANGE, "Adenylate cyclase inhibitory pathway", 952, 1652, LABELS_L,
             147.4, 1298, AC_R, AC_W, AC_TOP, AC_MED, AC_BOT)
violin_panel(1048.9, 1740, 974.6, 1624, CRANGE, "Common Pathway of Fibrin Clot Formation", 952, 1652, LABELS_R,
             961, 1298, FB_R, FB_W, FB_TOP, FB_MED, FB_BOT)
violin_panel(235.7, 926.6, 1757.2, 2405.3, DRANGE, "Metabolism of RNA", 1735, 2431, LABELS_L,
             147.4, 2080.5, MR_R, MR_W, MR_TOP, MR_MED, MR_BOT)
violin_panel(1048.9, 1740, 1757.2, 2405.3, DRANGE, "Translation", 1735, 2431, LABELS_R,
             961, 2080.5, TR_R, TR_W, TR_TOP, TR_MED, TR_BOT)

rect(117.9, 913.8, 1760.3, 1684.6, line="#ff0000", width=2.5)
rect(117.9, 1704, 1760.3, 2477, line=TEAL, width=2.5)

text(28, 38, "A", 68, family="DejaVu Sans")
text(970, 38, "B", 68, family="DejaVu Sans")
text(83, 950, "C", 80, family="DejaVu Sans")
text(80, 1737, "D", 80, family="DejaVu Sans")

fig.update_layout(**layout)
fig.write_html("out.html", config=dict(displayModeBar=False), post_script="document.body.style.margin='0';")
